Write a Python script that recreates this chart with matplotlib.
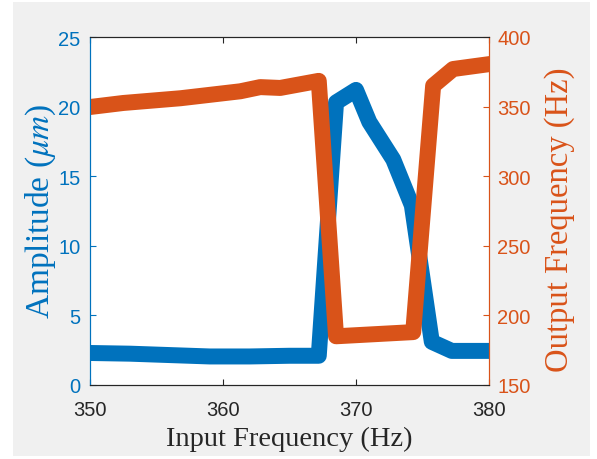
import numpy as np
import matplotlib as mpl
mpl.use('Agg')
import matplotlib.pyplot as plt
from matplotlib.patches import Rectangle

# amplitude response (left axis)
freq_amp = [350, 353, 356, 359, 362, 365, 367.2, 368.5, 370, 371.0, 372.8, 374.2, 375.7, 377.2, 380]
amp = [2.3, 2.25, 2.15, 2.05, 2.05, 2.1, 2.1, 20.3, 21.2, 18.9, 16.2, 12.9, 3.1, 2.45, 2.45]

# output frequency (right axis)
freq_out = [350, 352.5, 356.8, 361.3, 362.8, 364.3, 367.2, 368.5, 374.3, 375.8, 377.3, 380]
out_freq = [349.7, 352.6, 356, 361, 364, 363.4, 368.5, 185, 188, 365, 377, 380.5]

x_ticks = [350, 360, 370, 380]
amp_ticks = [0, 5, 10, 15, 20, 25]
out_ticks = [150, 200, 250, 300, 350, 400]

blue = '#0072BD'
orange = '#D95319'
dark = '#262626'

plt.rcParams['mathtext.fontset'] = 'stix'
tickfont = 'Liberation Sans'
labelfont = 'Liberation Serif'

W, H = 597., 460.
fig = plt.figure(figsize=(W/100, H/100), dpi=100, facecolor='white')
# grey figure panel
fig.patches.append(Rectangle((13/W, 3/H), 577/W, 454/H, transform=fig.transFigure,
                             facecolor='#f0f0f0', edgecolor='none', zorder=-10))

ax = fig.add_axes([90/W, 74/H, 399/W, 348/H])
ax2 = ax.twinx()

ax.plot(freq_amp, amp, c=blue, lw=11.5, solid_joinstyle='round')
ax2.plot(freq_out, out_freq, c=orange, lw=11.5, solid_joinstyle='round')

ax.set_xlim(350, 380)
ax.set_ylim(0, 25)
ax2.set_ylim(150, 400)
ax.set_xticks(x_ticks)
ax.set_yticks(amp_ticks)
ax2.set_yticks(out_ticks)

for a in (ax, ax2):
  for sp in a.spines.values():
    sp.set_linewidth(0.8)
  a.spines['top'].set_color(dark)
  a.spines['bottom'].set_color(dark)
  a.spines['left'].set_color(blue)
  a.spines['right'].set_color(orange)

ax.tick_params(axis='x', direction='in', top=True, length=4, width=0.8, color=dark,
               labelcolor=dark, pad=11)
ax.tick_params(axis='y', direction='in', length=4, width=0.8, color=blue, labelcolor=blue, pad=7)
ax2.tick_params(axis='y', direction='in', length=4, width=0.8, color=orange, labelcolor=orange, pad=6)
for lab in ax.get_xticklabels() + ax.get_yticklabels() + ax2.get_yticklabels():
  lab.set_fontfamily(tickfont)
  lab.set_fontsize(14.5)

ax.set_xlabel('Input Frequency (Hz)', family=labelfont, fontsize=20.5, color=dark)
ax.set_ylabel(r'Amplitude ($\mu m$)', family=labelfont, fontsize=24, color=blue)
ax2.set_ylabel('Output Frequency (Hz)', family=labelfont, fontsize=23.5, color=orange)

# label centres in axes coordinates
ax.xaxis.label.set_va('center')
ax.xaxis.set_label_coords(0.5, (386 - 439) / 348.)
ax.yaxis.label.set_va('center')
ax.yaxis.set_label_coords((41 - 90) / 399., (386 - 211.5) / 348.)
ax2.yaxis.label.set_va('center')
ax2.yaxis.set_label_coords((560 - 90) / 399., (386 - 220) / 348.)

plt.savefig('out.png', dpi=100, facecolor='white')
